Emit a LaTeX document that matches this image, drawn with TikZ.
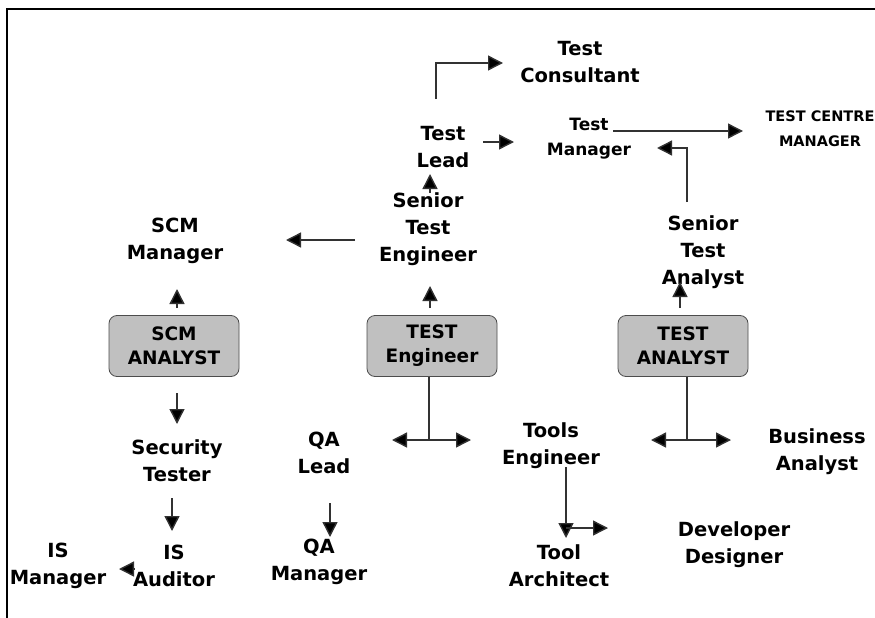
\documentclass[tikz,border=0pt]{standalone}
\usepackage{fontspec}
\setmainfont{DejaVu Sans}
\usepackage{tikz}
\usetikzlibrary{arrows.meta}

\definecolor{boxgray}{RGB}{192,192,192}
\definecolor{linegray}{RGB}{50,50,50}

\begin{document}
\begin{tikzpicture}
    [ x = 1pt, y = -1pt
    , role/.style =
      { align = center, inner sep = 0pt, text = black
      , font = \fontsize{19.5}{27}\selectfont\bfseries }
    , mgrtext/.style =
      { font = \fontsize{17}{25}\selectfont\bfseries }
    , ctrtext/.style =
      { font = \fontsize{14.5}{25}\selectfont\bfseries }
    , post/.style =
      { draw = black!70, fill = boxgray, rounded corners = 8pt, thick
      , minimum width = 130pt, minimum height = 61pt, align = center
      , text = black, font = \fontsize{18.5}{24}\selectfont\bfseries }
    , edge/.style =
      { draw = linegray, line width = 1.4pt }
    , pointed/.style =
      { -{Triangle[length=15pt,width=15pt,fill=black]} }
    , frame/.style =
      { draw = black, line width = 2pt }
    ]
    \useasboundingbox (0,0) rectangle (875,618);
    \draw [frame] (7,618) -- (7,9) -- (875,9);

    % the three entry posts
    \node [post] (scmbox) at (174,346) {SCM\\ANALYST};
    \node [post] (tebox) at (432,346) {TEST\\Engineer};
    \node [post] (tabox) at (683,346) {TEST\\ANALYST};

    % roles above
    \node [role] (tconsult) at (580,62) {Test\\Consultant};
    \node [role] (tlead) at (443,147) {Test\\Lead};
    \node [role,mgrtext] (tmanager) at (589,139) {Test\\Manager};
    \node [role,ctrtext] (tcm) at (820,129) {TEST CENTRE\\MANAGER};
    \node [role] (steng) at (428,229) {Senior\\Test\\Engineer};
    \node [role] (stanalyst) at (703,252) {Senior\\Test\\Analyst};
    \node [role] (scmmgr) at (175,241) {SCM\\Manager};

    % roles below
    \node [role] (sectester) at (177,461) {Security\\Tester};
    \node [role] (isaud) at (174,566) {IS\\Auditor};
    \node [role] (ismgr) at (58,566) {IS\\Manager};
    \node [role] (qalead) at (324,453) {QA\\Lead};
    \node [role] (qamgr) at (319,562) {QA\\Manager};
    \node [role] (toolseng) at (551,446) {Tools\\Engineer};
    \node [role] (business) at (817,452) {Business\\Analyst};
    \node [role] (devdes) at (734,545) {Developer\\Designer};
    \node [role] (toolarch) at (559,566) {Tool\\Architect};

    % arrow ends
    \coordinate (scmup-a) at (177,308);
    \coordinate (scmup-b) at (177,289);
    \coordinate (scmdown-a) at (177,393);
    \coordinate (scmdown-b) at (177,424);
    \coordinate (sec-a) at (172,498);
    \coordinate (sec-b) at (172,531);
    \coordinate (aud-a) at (134,569);
    \coordinate (aud-b) at (119,569);
    \coordinate (toscm-a) at (355,240);
    \coordinate (toscm-b) at (286,240);
    \coordinate (teup-a) at (430,308);
    \coordinate (teup-b) at (430,286);
    \coordinate (lead-a) at (430,193);
    \coordinate (lead-b) at (430,174);
    \coordinate (cons-a) at (436,99);
    \coordinate (cons-b) at (503,63);
    \coordinate (mgr-a) at (483,142);
    \coordinate (mgr-b) at (514,142);
    \coordinate (ctr-a) at (613,131);
    \coordinate (ctr-b) at (743,131);
    \coordinate (sta-a) at (687,202);
    \coordinate (sta-b) at (657,148);
    \coordinate (taup-a) at (680,308);
    \coordinate (taup-b) at (680,282);
    \coordinate (tejoin) at (429,440);
    \coordinate (teleft) at (392,440);
    \coordinate (teright) at (471,440);
    \coordinate (tajoin) at (687,440);
    \coordinate (taleft) at (651,440);
    \coordinate (taright) at (731,440);
    \coordinate (qa-a) at (330,503);
    \coordinate (qa-b) at (330,537);
    \coordinate (tools-a) at (566,467);
    \coordinate (tools-b) at (566,538);
    \coordinate (toolsjoin) at (566,528);
    \coordinate (dev-b) at (608,528);

    \draw [edge,pointed] (scmup-a) -- (scmup-b);
    \draw [edge,pointed] (scmdown-a) -- (scmdown-b);
    \draw [edge,pointed] (sec-a) -- (sec-b);
    \draw [edge,pointed] (aud-a) -- (aud-b);
    \draw [edge,pointed] (toscm-a) -- (toscm-b);
    \draw [edge,pointed] (teup-a) -- (teup-b);
    \draw [edge,pointed] (lead-a) -- (lead-b);
    \draw [edge,pointed] (cons-a) |- (cons-b);
    \draw [edge,pointed] (mgr-a) -- (mgr-b);
    \draw [edge,pointed] (ctr-a) -- (ctr-b);
    \draw [edge,pointed] (sta-a) |- (sta-b);
    \draw [edge,pointed] (taup-a) -- (taup-b);
    \draw [edge] (tebox.south -| tejoin) -- (tejoin);
    \draw [edge,pointed] (tejoin) -- (teleft);
    \draw [edge,pointed] (tejoin) -- (teright);
    \draw [edge] (tabox.south -| tajoin) -- (tajoin);
    \draw [edge,pointed] (tajoin) -- (taleft);
    \draw [edge,pointed] (tajoin) -- (taright);
    \draw [edge,pointed] (qa-a) -- (qa-b);
    \draw [edge,pointed] (tools-a) -- (tools-b);
    \draw [edge,pointed] (toolsjoin) -- (dev-b);
\end{tikzpicture}
\end{document}
